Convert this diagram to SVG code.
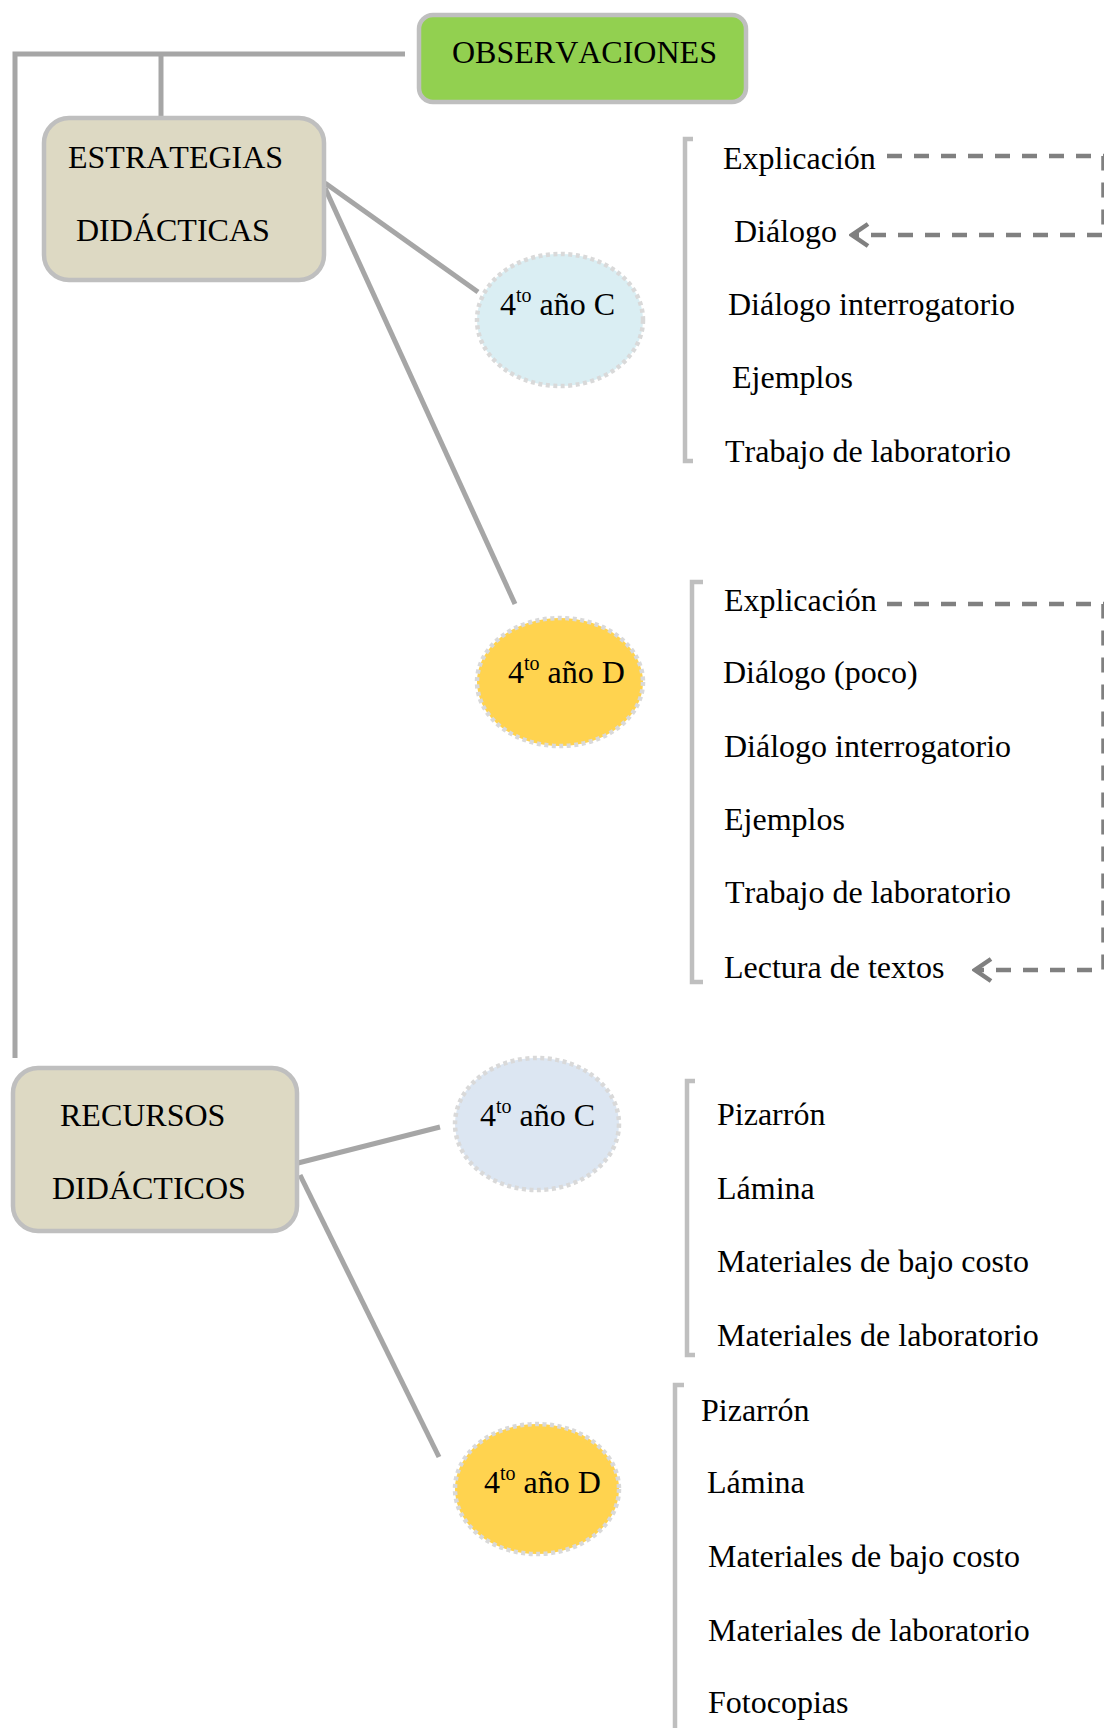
<svg xmlns="http://www.w3.org/2000/svg" width="1104" height="1728" viewBox="0 0 1104 1728">
<defs>
<style>
text{font-family:"Liberation Serif","Times New Roman",serif;font-size:32px;fill:#000;font-kerning:none}
.sup{font-size:20px}
.box{stroke:#BFBFBF;stroke-width:4.5}
.ell{stroke:#D9D9D9;stroke-width:4.5;stroke-dasharray:4 3.5}
.conn{fill:none;stroke:#A6A6A6;stroke-width:5}
.brk{fill:none;stroke:#BFBFBF;stroke-width:4.5}
.dash{fill:none;stroke:#808080;stroke-width:4.5;stroke-dasharray:15 12}
</style>
<marker id="chev" markerUnits="userSpaceOnUse" viewBox="-3 -14 22 28" markerWidth="22" markerHeight="28" refX="16" refY="0" orient="auto">
<path d="M0,-11 L16,0 L0,11" fill="none" stroke="#808080" stroke-width="4.5"/>
</marker>
</defs>
<rect width="1104" height="1728" fill="#fff"/>

<g id="connectors">
<path class="conn" d="M15,1058 V54 H405"/>
<path class="conn" d="M161,54 V118"/>
<path class="conn" d="M325,183 L478,292"/>
<path class="conn" d="M325,188 L515,604"/>
<path class="conn" d="M298,1163 L440,1127"/>
<path class="conn" d="M300,1175 L439,1457"/>
<path class="dash" d="M887,156 H1103.5 V235 H852" marker-end="url(#chev)"/>
<path class="dash" d="M887,604 H1103.5 V970 H975" marker-end="url(#chev)"/>
</g>

<g id="observaciones">
<rect class="box" x="419" y="15" width="327" height="87" rx="14" fill="#92D050"/>
<text x="452" y="63">OBSERVACIONES</text>
</g>

<g id="estrategias">
<rect class="box" x="44" y="118" width="280" height="162" rx="25" fill="#DDD9C3"/>
<text x="68" y="168">ESTRATEGIAS</text>
<text x="76" y="241">DIDÁCTICAS</text>
</g>

<g id="recursos">
<rect class="box" x="13" y="1068" width="284" height="163" rx="25" fill="#DDD9C3"/>
<text x="60" y="1126">RECURSOS</text>
<text x="52" y="1199">DIDÁCTICOS</text>
</g>

<g id="est-c">
<ellipse class="ell" cx="560" cy="320" rx="83" ry="66" fill="#DAEEF3"/>
<text x="500" y="315">4<tspan class="sup" dy="-13">to</tspan><tspan dy="13"> año C</tspan></text>
</g>

<g id="est-d">
<ellipse class="ell" cx="560" cy="682" rx="83" ry="64" fill="#FFD34F"/>
<text x="508" y="683">4<tspan class="sup" dy="-13">to</tspan><tspan dy="13"> año D</tspan></text>
</g>

<g id="rec-c">
<ellipse class="ell" cx="537" cy="1124" rx="82" ry="66" fill="#DCE6F2"/>
<text x="480" y="1126">4<tspan class="sup" dy="-13">to</tspan><tspan dy="13"> año C</tspan></text>
</g>

<g id="rec-d">
<ellipse class="ell" cx="537" cy="1489" rx="82" ry="65" fill="#FFD34F"/>
<text x="484" y="1493">4<tspan class="sup" dy="-13">to</tspan><tspan dy="13"> año D</tspan></text>
</g>

<g id="list-est-c">
<path class="brk" d="M693,139 H685 V461 H693"/>
<text x="723" y="169">Explicación</text>
<text x="734" y="242">Diálogo</text>
<text x="728" y="315">Diálogo interrogatorio</text>
<text x="732" y="388">Ejemplos</text>
<text x="725" y="462">Trabajo de laboratorio</text>
</g>

<g id="list-est-d">
<path class="brk" d="M703,582 H692 V982 H703"/>
<text x="724" y="611">Explicación</text>
<text x="723" y="683">Diálogo (poco)</text>
<text x="724" y="757">Diálogo interrogatorio</text>
<text x="724" y="830">Ejemplos</text>
<text x="725" y="903">Trabajo de laboratorio</text>
<text x="724" y="978">Lectura de textos</text>
</g>

<g id="list-rec-c">
<path class="brk" d="M695,1081 H687 V1355 H695"/>
<text x="717" y="1125">Pizarrón</text>
<text x="717" y="1199">Lámina</text>
<text x="717" y="1272">Materiales de bajo costo</text>
<text x="717" y="1346">Materiales de laboratorio</text>
</g>

<g id="list-rec-d">
<path class="brk" d="M684,1385 H675 V1728"/>
<text x="701" y="1421">Pizarrón</text>
<text x="707" y="1493">Lámina</text>
<text x="708" y="1567">Materiales de bajo costo</text>
<text x="708" y="1641">Materiales de laboratorio</text>
<text x="708" y="1713">Fotocopias</text>
</g>
</svg>
